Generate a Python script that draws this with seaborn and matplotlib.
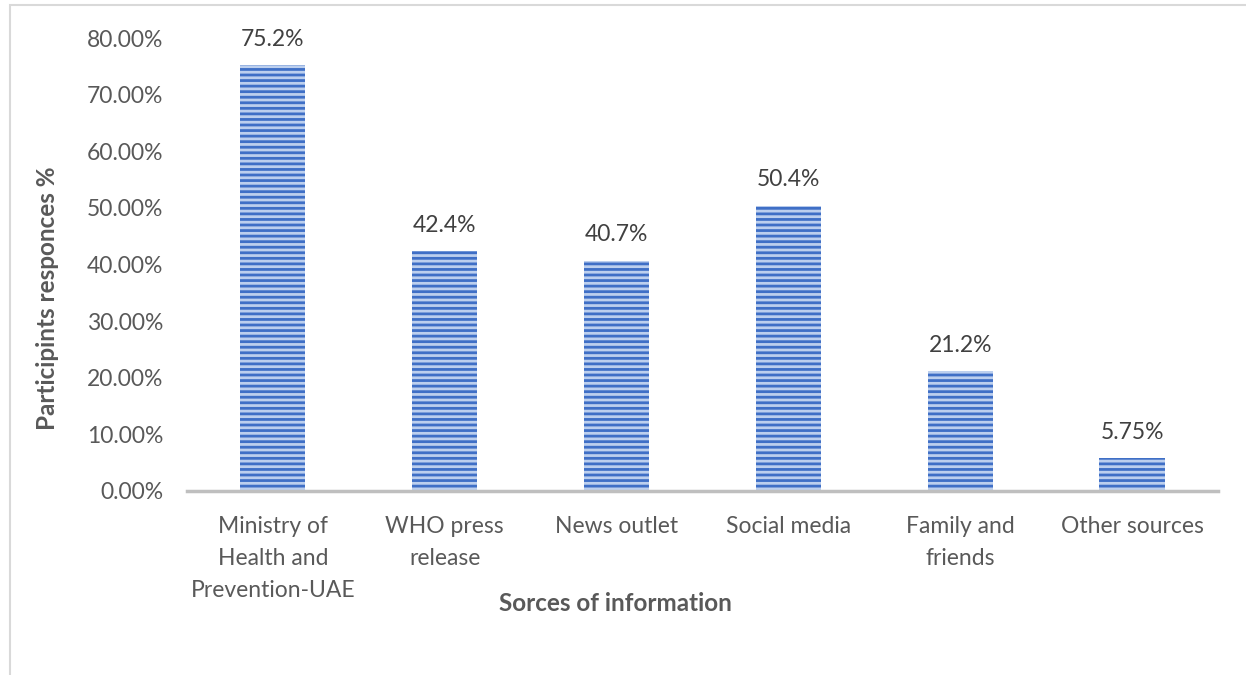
import matplotlib
matplotlib.use("Agg")
import matplotlib.pyplot as plt
import seaborn as sns
import pandas as pd
from matplotlib.patches import Rectangle
from matplotlib.ticker import FuncFormatter

# data
sources = ["Ministry of\nHealth and\nPrevention-UAE", "WHO press\nrelease", "News outlet",
           "Social media", "Family and\nfriends", "Other sources"]
shares = [0.752, 0.424, 0.407, 0.504, 0.212, 0.0575]
value_labels = ["75.2%", "42.4%", "40.7%", "50.4%", "21.2%", "5.75%"]

sns.set_theme(style="white")
plt.rcParams["font.family"] = ["Lato", "DejaVu Sans"]
plt.rcParams["hatch.color"] = "#3f6fc6"
plt.rcParams["hatch.linewidth"] = 2.0

grey = "#595959"
fs = 16.5
df = pd.DataFrame({"source": sources, "share": shares})

fig = plt.figure(figsize=(12.46, 6.75), dpi=100)
ax = fig.add_axes([0.150, 0.2726, 0.8275, 0.6711])

sns.barplot(data=df, x="source", y="share", ax=ax, color="#bccfee",
            width=0.38, saturation=1, linewidth=0)
for bar in ax.patches:
    bar.set_hatch("---")
    bar.set_edgecolor("#3f6fc6")
    bar.set_linewidth(0)

for i, (v, lab) in enumerate(zip(shares, value_labels)):
    ax.annotate(lab, (i, v), xytext=(0, 11), textcoords="offset points",
                ha="center", va="bottom", fontsize=fs, color="#404040")

ax.set_ylim(0, 0.8)
ax.set_xlim(-0.5, 5.5)
ax.set_yticks([i / 10 for i in range(9)])
ax.yaxis.set_major_formatter(FuncFormatter(lambda v, p: f"{v * 100:.2f}%"))
ax.tick_params(axis="both", labelsize=fs, colors=grey, length=0)
ax.tick_params(axis="y", pad=17)
ax.tick_params(axis="x", pad=18)
for lbl in ax.get_xticklabels():
    lbl.set_linespacing(1.65)

ax.set_xlabel("Sorces of information", fontsize=17.5, fontweight="bold", color=grey)
ax.set_ylabel("Participints responces %", fontsize=17.5, fontweight="bold", color=grey)
ax.xaxis.set_label_coords(0.416, -0.249)
ax.xaxis.label.set_va("center")
ax.yaxis.set_label_coords(-0.135, 0.426)
ax.yaxis.label.set_va("center")

sns.despine(ax=ax, left=True)
ax.spines["bottom"].set_color("#bfbfbf")
ax.spines["bottom"].set_linewidth(2.5)

# outer chart frame
fig.patches.append(Rectangle((0.008, -0.05), 1.1, 1.043, transform=fig.transFigure,
                             fill=False, edgecolor="#d9d9d9", linewidth=1.5))

fig.savefig("out.png", dpi=100)
